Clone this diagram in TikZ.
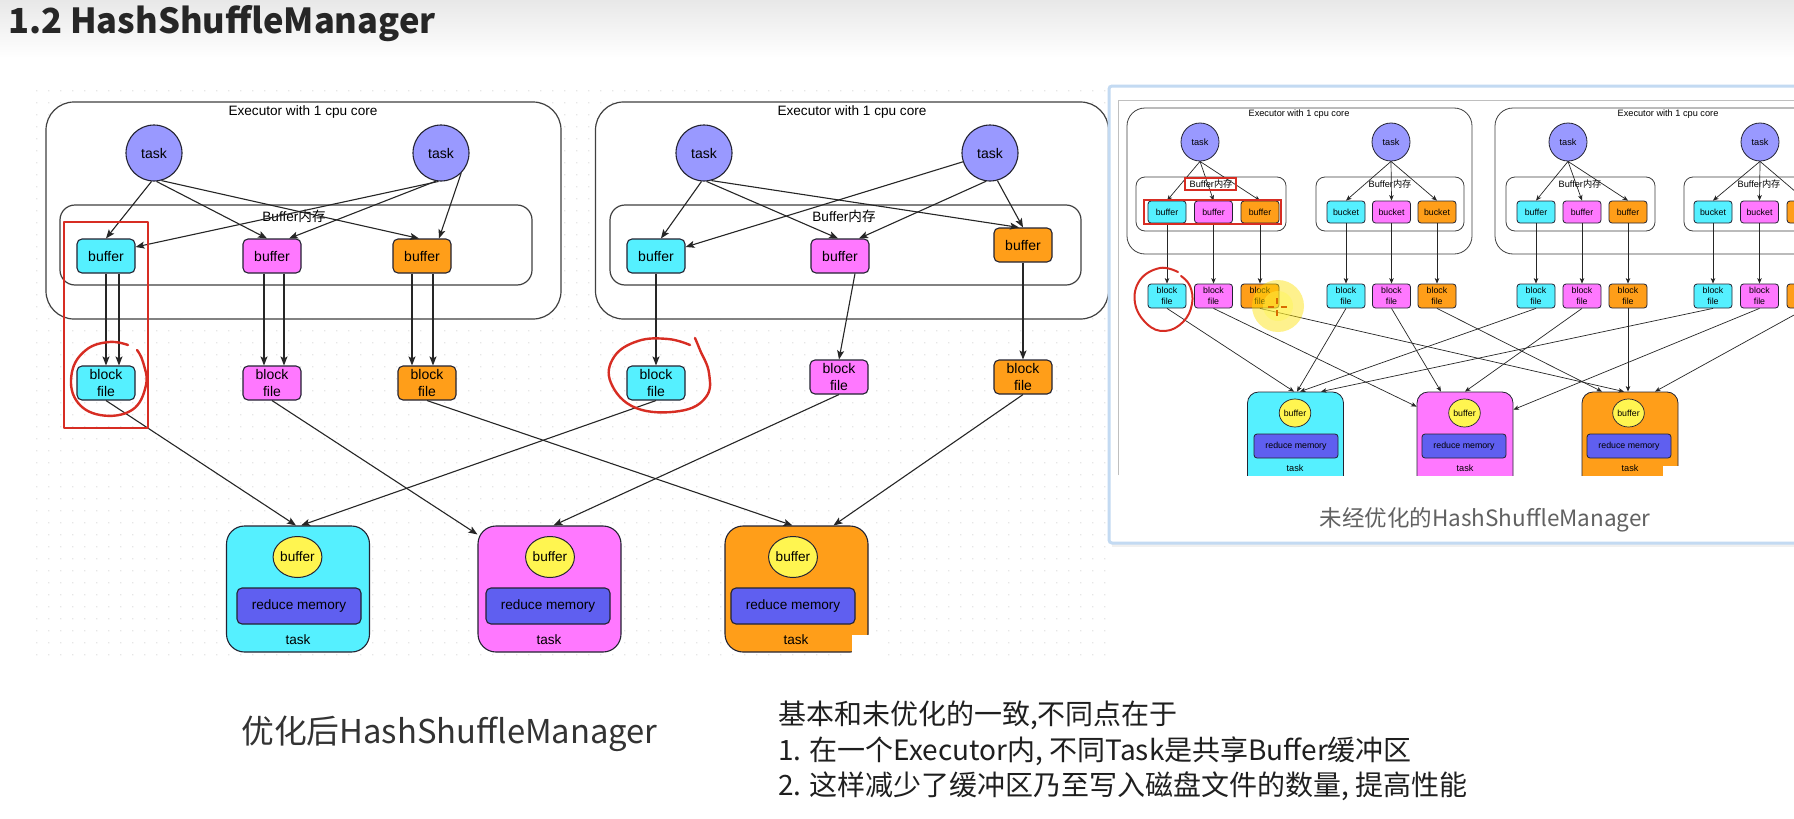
\documentclass[tikz,border=0pt]{standalone}
\usepackage{fontspec}
\setmainfont{Liberation Sans}
\newfontfamily\cjk{Noto Sans CJK SC}
\usetikzlibrary{arrows.meta,shapes.geometric,calc}
\definecolor{tcyan}{RGB}{85,240,255}
\definecolor{tmag}{RGB}{255,120,255}
\definecolor{torg}{RGB}{255,158,25}
\definecolor{tblue}{RGB}{153,153,255}
\definecolor{rmemc}{RGB}{95,95,240}
\definecolor{ybuf}{RGB}{255,245,80}
\definecolor{redmark}{RGB}{215,45,35}
\definecolor{edgec}{RGB}{35,35,50}
\definecolor{dotc}{RGB}{230,230,230}
\definecolor{panelb}{RGB}{195,218,242}
\tikzset{
  arr/.style={-{Stealth[length=9,width=7,inset=2]}, line width=1.1, draw=black!85},
  sarr/.style={-{Stealth[length=5.5,width=4.5,inset=1.5]}, line width=0.7, draw=black!85},
  exec/.style={draw=black!75, line width=1.2, rounded corners=28, fill=white},
  memb/.style={draw=black!75, line width=1.2, rounded corners=15},
  lbl/.style={font=\fontsize{13.6}{15}\selectfont, inner sep=0},
  tasknode/.style={circle, draw=edgec, line width=1.1, fill=tblue, minimum size=56, inner sep=0, font=\fontsize{14}{16}\selectfont},
  sbox/.style={draw=edgec, line width=1.1, fill=#1, rounded corners=5, minimum width=58, minimum height=34, inner sep=0, font=\fontsize{14}{17}\selectfont, align=center},
  bigtask/.style={draw=edgec, line width=1.1, fill=#1, rounded corners=18, minimum width=143, minimum height=126, inner sep=0},
  ybufn/.style={ellipse, draw=edgec, line width=1, fill=ybuf, minimum width=37, minimum height=41, inner sep=0, font=\fontsize{13.6}{15}\selectfont},
  rmemn/.style={draw=edgec, line width=1.1, fill=rmemc, rounded corners=5, minimum width=124, minimum height=36, inner sep=0, font=\fontsize{13.6}{15}\selectfont},
  redline/.style={draw=redmark, line width=2.4, line cap=round, line join=round},
  rexec/.style={draw=black!75, line width=0.8, rounded corners=18, fill=white},
  rmemb/.style={draw=black!75, line width=0.8, rounded corners=9},
  slbl/.style={font=\fontsize{9.2}{10}\selectfont, inner sep=0},
  rtask/.style={circle, draw=edgec, line width=0.8, fill=tblue, minimum size=38, inner sep=0, font=\fontsize{9.2}{10}\selectfont},
  ssb/.style={draw=edgec, line width=0.8, fill=#1, rounded corners=3, minimum width=38, minimum height=22, inner sep=0, font=\fontsize{8.8}{11}\selectfont, align=center},
  sbf/.style={ssb=#1, minimum height=24},
  rbig/.style={draw=edgec, line width=0.8, fill=#1, rounded corners=11, minimum width=96, minimum height=100, inner sep=0},
  rybuf/.style={ellipse, draw=edgec, line width=0.7, fill=ybuf, minimum width=25, minimum height=28, inner sep=0, font=\fontsize{8.8}{10}\selectfont},
  rrmem/.style={draw=edgec, line width=0.8, fill=rmemc, rounded corners=3, minimum width=84, minimum height=24, inner sep=0, font=\fontsize{8.8}{10}\selectfont},
  notetxt/.style={anchor=base west, font=\cjk\fontsize{28}{32}\selectfont, text=black!88, inner sep=0},
}
\begin{document}
\begin{tikzpicture}[x=1pt,y=-1pt]
\useasboundingbox (0,0) rectangle (1794,819);
\fill[white] (0,0) rectangle (1794,819);
\shade[top color=black!9, bottom color=white] (0,0) rectangle (1794,58);

% dotted canvas grid
\foreach \y in {90,102,...,662} {
  \fill[dotc] foreach \x in {36,48,...,1104} {(\x,\y) rectangle ++(1.4,1.4)};
}

% title
\node[anchor=base west, font=\cjk\bfseries\fontsize{34.5}{38}\selectfont, text=black!85, inner sep=0] (title) at (8,34) {1.2 HashShuffleManager};

% ================= left diagram =================
\node[exec, minimum width=515, minimum height=217] (ex1) at (303.5,210.5) {};
\node[exec, minimum width=513, minimum height=217] (ex2) at (852,210.5) {};
\node[lbl] (ex1l) at (303,112) {Executor with 1 cpu core};
\node[lbl] (ex2l) at (852,112) {Executor with 1 cpu core};
\node[memb, minimum width=472, minimum height=80] (m1) at (296,245) {};
\node[memb, minimum width=471, minimum height=80] (m2) at (845.5,245) {};
\node[lbl] (m1l) at (294,216) {Buffer{\cjk 内存}};
\node[lbl] (m2l) at (844,216) {Buffer{\cjk 内存}};

\node[tasknode] (t1) at (154,153) {task};
\node[tasknode] (t2) at (441,153) {task};
\node[tasknode] (t3) at (704,153) {task};
\node[tasknode] (t4) at (990,153) {task};

\node[sbox=tcyan] (b1) at (106,256) {buffer};
\node[sbox=tmag] (b2) at (272,256) {buffer};
\node[sbox=torg] (b3) at (422,256) {buffer};
\node[sbox=tcyan] (b4) at (656,256) {buffer};
\node[sbox=tmag] (b5) at (840,256) {buffer};
\node[sbox=torg] (b6) at (1023,245) {buffer};

\node[sbox=tcyan] (f1) at (106,383) {block\\file};
\node[sbox=tmag] (f2) at (272,383) {block\\file};
\node[sbox=torg] (f3) at (427,383) {block\\file};
\node[sbox=tcyan] (f4) at (656,383) {block\\file};
\node[sbox=tmag] (f5) at (839,377) {block\\file};
\node[sbox=torg] (f6) at (1023,377) {block\\file};

% task -> buffer
\draw[arr] (t1.-95) -- (b1.north);
\draw[arr] (t1.-85) -- ([xshift=-5pt]b2.north);
\draw[arr] (t1.-75) -- ([xshift=-3pt]b3.north);
\draw[arr] (t2.-95) -- ([yshift=9pt]b1.east);
\draw[arr] (t2.-100) -- ([xshift=17pt]b2.north);
\draw[arr] (t2.-45) -- ([xshift=17pt]b3.north);
\draw[arr] (t3.-95) -- ([xshift=5pt]b4.north);
\draw[arr] (t3.-85) -- ([xshift=-2pt]b5.north);
\draw[arr] (t3.-75) -- ([xshift=-4pt]b6.north);
\draw[arr] (t4.198) -- ([yshift=9pt]b4.east);
\draw[arr] (t4.-98) -- ([xshift=19pt]b5.north);
\draw[arr] (t4.-75) -- (b6.north);

% buffer -> block file
\draw[arr] (b1.south) -- (f1.north);
\draw[arr] ([xshift=13pt]b1.south) -- ([xshift=13pt]f1.north);
\draw[arr] ([xshift=-8pt]b2.south) -- ([xshift=-8pt]f2.north);
\draw[arr] ([xshift=12pt]b2.south) -- ([xshift=12pt]f2.north);
\draw[arr] ([xshift=-10pt]b3.south) -- ([xshift=-15pt]f3.north);
\draw[arr] ([xshift=11pt]b3.south) -- ([xshift=6pt]f3.north);
\draw[arr] (b4) -- (f4);
\draw[arr] ([xshift=15pt]b5.south) -- (f5.north);
\draw[arr] (b6) -- (f6);

% reduce tasks
\node[bigtask=tcyan] (T1) at (298,589) {};
\node[bigtask=tmag] (T2) at (549.5,589) {};
\node[bigtask=torg] (T3) at (796.5,589) {};
\node[ybufn] (y1) at (297.5,557) {buffer};
\node[ybufn] (y2) at (550,557) {buffer};
\node[ybufn] (y3) at (793,557) {buffer};
\node[rmemn] (r1) at (299,606) {reduce memory};
\node[rmemn] (r2) at (548,606) {reduce memory};
\node[rmemn] (r3) at (793,606) {reduce memory};
\node[lbl] (k1) at (298,640) {task};
\node[lbl] (k2) at (549,640) {task};
\node[lbl] (k3) at (796,640) {task};
\fill[white] (852,635) rectangle (880,656);

% block file -> reduce task
\draw[arr] (f1.south) -- ([xshift=-2pt]T1.north);
\draw[arr] (f4.south) -- ([xshift=3pt]T1.north);
\draw[arr] (f2.south) -- ([yshift=-9pt]T2.north west);
\draw[arr] (f5.south) -- ([xshift=4pt]T2.north);
\draw[arr] (f3.south) -- ([xshift=-4pt]T3.north);
\draw[arr] (f6.south) -- ([xshift=37pt]T3.north);

% red annotations
\draw[redline] (64,222) rectangle (148,428);
\draw[redline] plot[smooth, tension=0.7] coordinates {(128,345) (109,342) (86,350) (72,372) (76,400) (100,415) (132,410) (146,385) (143,362) (137,350)};
\draw[redline] plot[smooth, tension=0.7] coordinates {(690,345) (668,339) (638,341) (614,357) (611,383) (636,408) (680,411) (706,397) (709,373) (700,350) (695,338)};

% ================= right panel (screenshot) =================
\fill[black!6] (1112,90) rectangle (1800,547);
\draw[draw=panelb, line width=3, fill=white, rounded corners=3] (1109,86) rectangle (1810,543);
\begin{scope}
\clip (1118.5,100.5) rectangle (1794,475);
\node[rexec, minimum width=345, minimum height=146] (re1) at (1299.5,181) {};
\node[rexec, minimum width=345, minimum height=146] (re2) at (1667.5,181) {};
\node[slbl] (re1l) at (1299,114) {Executor with 1 cpu core};
\node[slbl] (re2l) at (1668,114) {Executor with 1 cpu core};
\node[rmemb, minimum width=150, minimum height=54] (rm1) at (1211,204) {};
\node[rmemb, minimum width=148, minimum height=54] (rm2) at (1390,204) {};
\node[rmemb, minimum width=149, minimum height=54] (rm3) at (1580.5,204) {};
\node[rmemb, minimum width=150, minimum height=54] (rm4) at (1759,204) {};
\node[slbl] (rm1l) at (1211,184) {Buffer{\cjk 内存}};
\node[slbl] (rm2l) at (1390,184) {Buffer{\cjk 内存}};
\node[slbl] (rm3l) at (1580,184) {Buffer{\cjk 内存}};
\node[slbl] (rm4l) at (1759,184) {Buffer{\cjk 内存}};
\foreach \g/\xt/\xa/\xb/\xc/\w in {1/1200/1167/1213.5/1260/buffer, 2/1391/1346/1391.5/1437/bucket, 3/1568/1536/1582/1628/buffer, 4/1760/1713/1759.5/1806/bucket} {
  \node[rtask] (rt\g) at (\xt,142) {task};
  \node[ssb=tcyan] (s\g-a) at (\xa,212) {\w};
  \node[ssb=tmag] (s\g-b) at (\xb,212) {\w};
  \node[ssb=torg] (s\g-c) at (\xc,212) {\ifnum\g<4 \w\fi};
  \node[sbf=tcyan] (g\g-a) at (\xa,296) {block\\file};
  \node[sbf=tmag] (g\g-b) at (\xb,296) {block\\file};
  \node[sbf=torg] (g\g-c) at (\xc,296) {\ifnum\g<4 block\\file\fi};
  \draw[sarr] (rt\g.south) -- (s\g-a.north);
  \draw[sarr] (rt\g.south) -- (s\g-b.north);
  \draw[sarr] (rt\g.south) -- (s\g-c.north);
  \draw[sarr] (s\g-a) -- (g\g-a);
  \draw[sarr] (s\g-b) -- (g\g-b);
  \draw[sarr] (s\g-c) -- (g\g-c);
}
\node[rbig=tcyan] (rb1) at (1295.5,442) {};
\node[rbig=tmag] (rb2) at (1465,442) {};
\node[rbig=torg] (rb3) at (1630,442) {};
\node[rybuf] (ry1) at (1295,413) {buffer};
\node[rybuf] (ry2) at (1464.5,413) {buffer};
\node[rybuf] (ry3) at (1628.5,413) {buffer};
\node[rrmem] (rr1) at (1296,446) {reduce memory};
\node[rrmem] (rr2) at (1464,446) {reduce memory};
\node[rrmem] (rr3) at (1629,446) {reduce memory};
\node[slbl] (rk1) at (1295,468) {task};
\node[slbl] (rk2) at (1465,468) {task};
\node[slbl] (rk3) at (1630,468) {task};
\fill[white] (1663,466) rectangle (1681,477);
\draw[sarr] (g1-a.south) -- ([xshift=-1.5pt]rb1.north);
\draw[sarr] (g2-a.south) -- ([xshift=1.5pt]rb1.north);
\draw[sarr] (g3-a.south) -- ([xshift=4.5pt]rb1.north);
\draw[sarr] (g4-a.south) -- ([xshift=25.5pt]rb1.north);
\draw[sarr] (g1-b.south) -- ([yshift=-15pt]rb2.north west);
\draw[sarr] (g2-b.south) -- ([xshift=-24pt]rb2.north);
\draw[sarr] (g3-b.south) -- (rb2.north);
\draw[sarr] (g4-b.south) -- ([yshift=-18pt]rb2.north east);
\draw[sarr] (g1-c.south) -- ([xshift=-6pt]rb3.north);
\draw[sarr] (g2-c.south) -- ([xshift=-28pt]rb3.north);
\draw[sarr] (g3-c.south) -- ([xshift=-2pt]rb3.north);
\draw[sarr] (g4-c.south) -- ([xshift=25pt]rb3.north);
\draw[redmark, line width=1.6] (1185,178) rectangle (1236,190);
\draw[redmark, line width=2] (1144,200) rectangle (1281,224);
\draw[redline, line width=2] plot[smooth, tension=0.7] coordinates {(1178,272) (1160,268) (1140,280) (1135,303) (1147,324) (1165,331) (1183,322) (1192,304) (1190,286) (1181,276)};
\fill[yellow!85!orange, opacity=0.45] (1278,306) circle (26);
\fill[yellow!70, opacity=0.4] (1278,306) circle (15);
\draw[orange!85!black, line width=1.8] (1268,307) -- (1274,307) (1281,307) -- (1287,307) (1277,298) -- (1277,304) (1277,310) -- (1277,316);
\end{scope}
\draw[black!25, line width=0.7] (1118,475) -- (1118,100) -- (1794,100);
\node[font=\cjk\fontsize{22.5}{26}\selectfont, text=black!62, inner sep=0] (cap2) at (1485,520) {未经优化的HashShuffleManager};

% ================= bottom texts =================
\node[anchor=base west, font=\cjk\fontsize{32.8}{36}\selectfont, text=black!80, inner sep=0] (cap1) at (241,743) {优化后HashShuffleManager};
\node[notetxt] (note1) at (778,724) {基本和未优化的一致,不同点在于};
\node[notetxt] (note2) at (778,760) {1. 在一个Executor内, 不同Task是共享Buffer缓冲区};
\node[notetxt] (note3) at (778,795) {2. 这样减少了缓冲区乃至写入磁盘文件的数量, 提高性能};
\end{tikzpicture}
\end{document}
